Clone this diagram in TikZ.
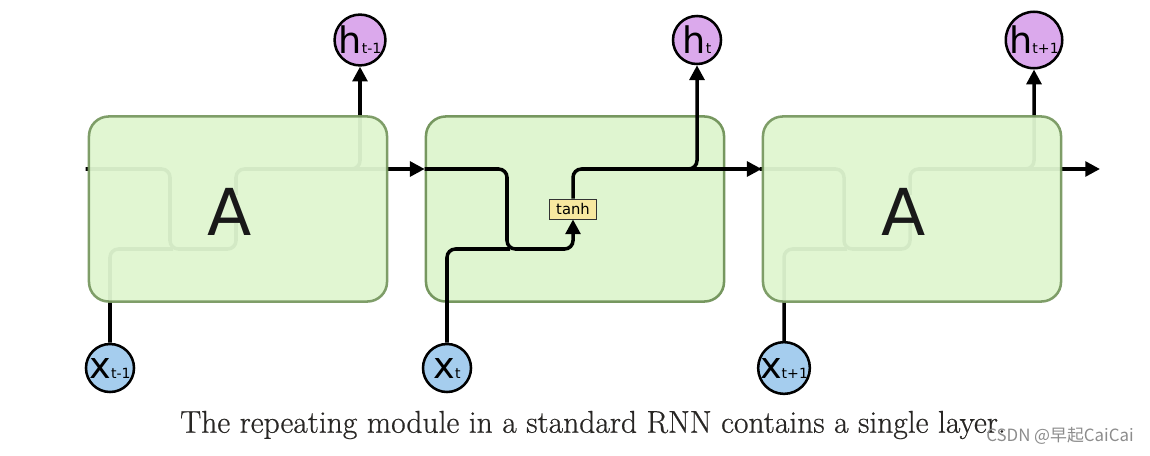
\documentclass[tikz,border=0pt]{standalone}
\usepackage{fontspec}
\newfontfamily\dv{DejaVu Sans}
\newfontfamily\cjk{Noto Sans CJK SC}
\newfontfamily\capfont[FakeBold=0.6]{Latin Modern Roman}
\usetikzlibrary{arrows.meta,backgrounds}
\definecolor{cellfill}{RGB}{223,245,208}
\definecolor{cellfillT}{RGB}{223,246,208}
\definecolor{cellborder}{RGB}{118,151,95}
\definecolor{hfill}{RGB}{219,169,236}
\definecolor{xfill}{RGB}{165,205,238}
\definecolor{tanhfill}{RGB}{248,232,160}
\definecolor{capcol}{RGB}{40,38,36}
\begin{document}
\begin{tikzpicture}[x=0.025cm,y=-0.025cm,
  wire/.style={line width=2.5pt, black, rounded corners=6pt},
  arr/.style={-{Triangle[length=10.5pt,width=10.5pt]}},
  cell/.style={rectangle, rounded corners=14pt, draw=cellborder, line width=1.8pt,
    minimum width=7.45cm, minimum height=4.625cm, inner sep=0pt},
  opaquecell/.style={cell, fill=cellfill},
  fadecell/.style={cell, fill=cellfillT, fill opacity=0.95, draw opacity=0.93},
  hcirc/.style={circle, draw=black, line width=1.8pt, fill=hfill, minimum size=1.2cm, inner sep=0pt,
    font=\dv\fontsize{26}{26}\selectfont},
  xcirc/.style={circle, draw=black, line width=1.8pt, fill=xfill, minimum size=1.2cm, inner sep=0pt,
    font=\dv\fontsize{26}{26}\selectfont},
  tanhbox/.style={rectangle, draw=black!80, line width=0.6pt, fill=tanhfill, minimum width=1.175cm,
    minimum height=0.5cm, inner sep=0pt, font=\dv\fontsize{10.5}{11}\selectfont},
  bigA/.style={font=\dv\fontsize{46}{46}\selectfont, text=black!90, text opacity=1}
]
\useasboundingbox (0,0) rectangle (1150,455);
\newcommand{\subtxt}[1]{{\fontsize{10}{10}\selectfont #1}}

% cells
\node[fadecell] (B1) at (238,209) {};
\node[opaquecell] (B2) at (575,209) {};
\node[fadecell] (B3) at (912,209) {};
\node[bigA] (A1) at (230,212) {A};
\node[bigA] (A3) at (904,212) {A};

% circles
\node[hcirc] (H1) at (360,40) {h\subtxt{t-1}};
\node[hcirc] (H2) at (697,40) {h\subtxt{t}};
\node[hcirc] (H3) at (1034,40) {h\subtxt{t+1}};
\node[xcirc] (X1) at (110,368) {x\subtxt{t-1}};
\node[xcirc] (X2) at (447,368) {x\subtxt{t}};
\node[xcirc] (X3) at (784,368) {x\subtxt{t+1}};

% tanh
\node[tanhbox] (T2) at (573,209) {tanh};
\coordinate (T1) at (236,209);
\coordinate (T3) at (910,209);
\coordinate (Y) at (0,169);
\coordinate (R) at (1100,169);

% middle cell wires (on top)
\draw[wire,arr] (B2.west |- Y) -- (507,169) -- (507,249) -- (573,249) -- (T2.south);
\draw[wire] (X2.north) -- (447,249) -- (510,249);
\draw[wire,arr] (T2.north) -- (573,169) -- (B3.west |- Y);
\draw[wire,arr] (670,169) -- (697,169) -- (H2.south);

% outer cells wires (under the translucent cells)
\begin{scope}[on background layer]
  % cell 1
  \draw[wire] ([xshift=-1.5pt]B1.west |- Y) -- (170,169) -- (170,249) -- (236,249) -- ([yshift=-10pt]T1);
  \draw[wire] (X1.north) -- (110,249) -- (173,249);
  \draw[wire,arr] ([yshift=10pt]T1) -- (236,169) -- (B2.west |- Y);
  \draw[wire,arr] (333,169) -- (360,169) -- (H1.south);
  % cell 3
  \draw[wire] ([xshift=-1.5pt]B3.west |- Y) -- (844,169) -- (844,249) -- (910,249) -- ([yshift=-10pt]T3);
  \draw[wire] (X3.north) -- (784,249) -- (847,249);
  \draw[wire,arr] ([yshift=10pt]T3) -- (910,169) -- (R);
  \draw[wire,arr] (1007,169) -- (1034,169) -- (H3.south);
\end{scope}

% caption
\node[font=\capfont\fontsize{22.4}{26}\selectfont, text=capcol] (cap) at (593,425)
  {The repeating module in a standard RNN contains a single layer.};
\node[font=\cjk\fontsize{12}{14}\selectfont, text=black!45] (wm) at (1060,436) {CSDN @早起CaiCai};
\end{tikzpicture}
\end{document}
